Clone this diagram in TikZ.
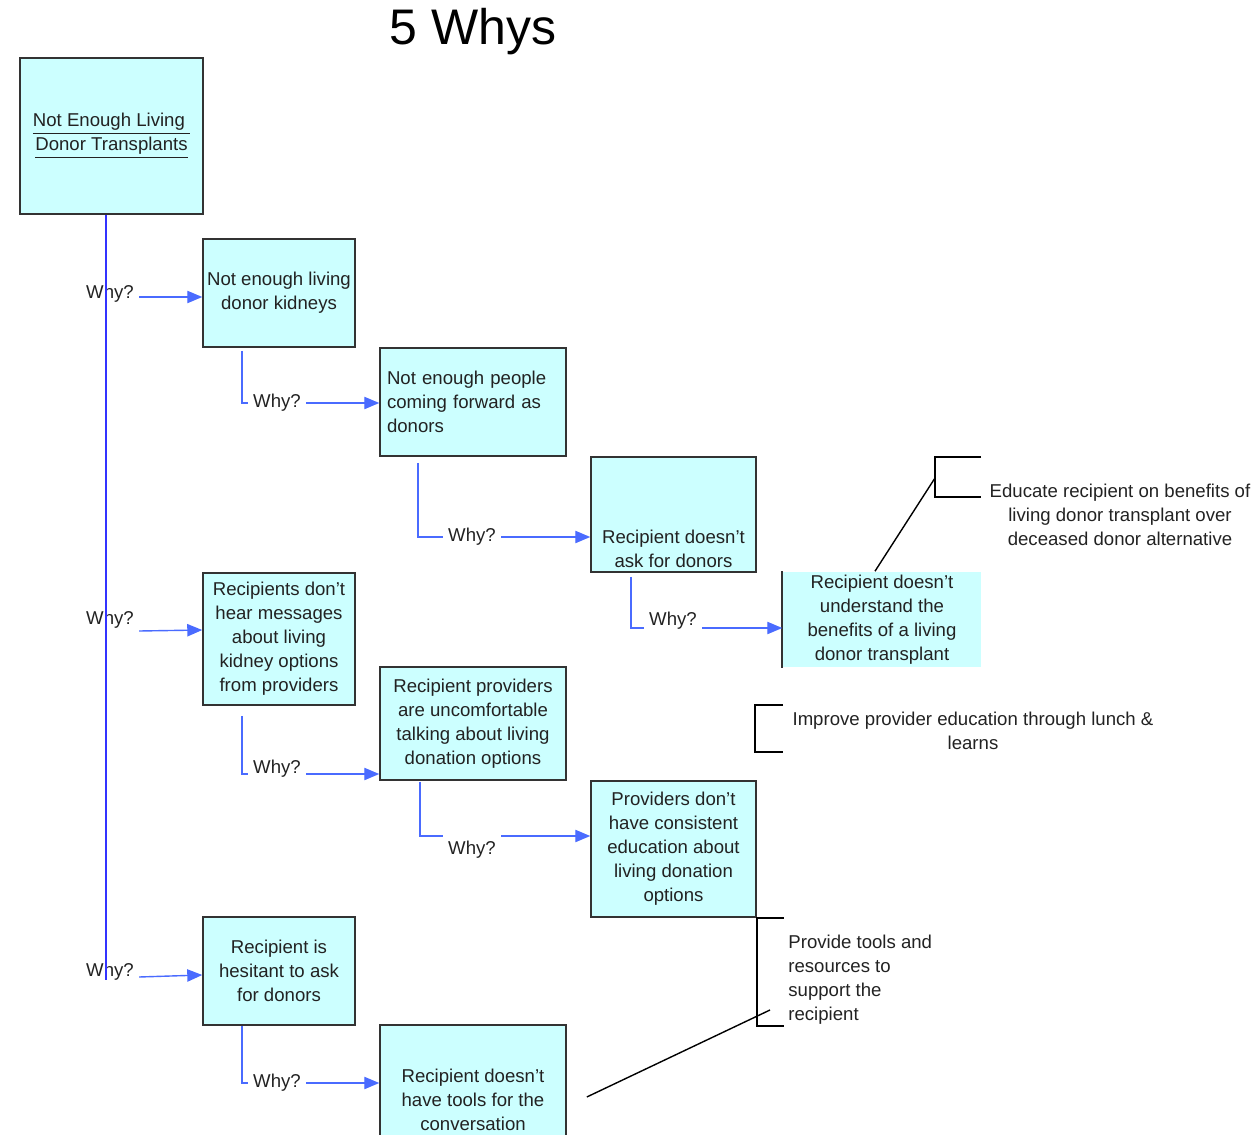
\documentclass[tikz,border=0pt]{standalone}
\usepackage{fontspec}
\setmainfont{Liberation Sans}
\usetikzlibrary{arrows}
\definecolor{boxfill}{HTML}{CCFFFF}
\definecolor{boxline}{HTML}{333333}
\definecolor{trunkblue}{HTML}{3333FF}
\definecolor{linkblue}{HTML}{4A6BFF}
\definecolor{inkgray}{HTML}{222222}

\begin{document}
\begin{tikzpicture}[x=0.5pt,y=-0.5pt,
  whybox/.style={draw=boxline,fill=boxfill,line width=0.8pt,inner sep=0pt,
    align=center,text=inkgray,font=\fontsize{9.3}{12}\selectfont},
  whytxt/.style={inner sep=2.5pt,text=inkgray,font=\fontsize{9.3}{12}\selectfont},
  note/.style={inner sep=2.5pt,align=center,text=inkgray,font=\fontsize{9.3}{12}\selectfont},
  trunk/.style={trunkblue,line width=0.8pt},
  link/.style={linkblue,line width=0.7pt},
  linkto/.style={link,-triangle 45},
  bracket/.style={black,line width=0.7pt}]
\useasboundingbox (0,0) rectangle (1255,1135);
\clip (0,0) rectangle (1255,1135);
\node (title) [font=\fontsize{25}{30}\selectfont,anchor=base] at (473,45) {5 Whys};
\node (root) [whybox,minimum width=91.5pt,minimum height=78pt] at (111.5,136)
  {\underline{Not Enough Living\ }\\\underline{Donor Transplants}};
\node (b1) [whybox,minimum width=76pt,minimum height=54pt] at (279,293)
  {Not enough living\\donor kidneys};
\node (b2) [whybox,minimum width=93pt,minimum height=54pt,text width=86pt,align=left]
  at (473,402) {Not enough people\\coming forward as\\donors};
\node (b3) [whybox,minimum width=82.5pt,minimum height=57.5pt] at (673.5,514.5) {};
\node (b3t) [note,anchor=south,inner sep=2.5pt] at (b3.south) {Recipient doesn't\\ask for donors};
\node (b4) [whybox,draw=none,minimum width=99pt,minimum height=47.5pt] at (882,619.5)
  {Recipient doesn't\\understand the\\benefits of a living\\donor transplant};
\draw [boxline,line width=0.8pt] (b4.north west) -- (b4.south west);
\node (c1) [whybox,minimum width=76pt,minimum height=66pt] at (279,639)
  {Recipients don't\\hear messages\\about living\\kidney options\\from providers};
\node (c2) [whybox,minimum width=93pt,minimum height=56.5pt] at (473,723.5)
  {Recipient providers\\are uncomfortable\\talking about living\\donation options};
\node (c3) [whybox,minimum width=82.5pt,minimum height=68pt] at (673.5,849)
  {Providers don't\\have consistent\\education about\\living donation\\options};
\node (d1) [whybox,minimum width=76pt,minimum height=54pt] at (279,971)
  {Recipient is\\hesitant to ask\\for donors};
\node (d2) [whybox,minimum width=93pt,minimum height=75pt] at (473,1100)
  {Recipient doesn't\\have tools for the\\conversation};
\node (wa1) [whytxt] at (110,294) {Why?};
\node (wa2) [whytxt] at (110,620) {Why?};
\node (wa3) [whytxt] at (110,972) {Why?};
\node (wb1) [whytxt] at (277,403) {Why?};
\node (wb2) [whytxt] at (472,537) {Why?};
\node (wb3) [whytxt] at (673,621) {Why?};
\node (wc1) [whytxt] at (277,769) {Why?};
\node (wc2) [whytxt] at (472,850) {Why?};
\node (wd1) [whytxt] at (277,1083) {Why?};
\coordinate (trunkend) at (106,980);
\draw [trunk] (root.south -| trunkend) -- (trunkend);
\draw [linkto] ([yshift=-1.5pt]wa1.east) -- ([yshift=-1.5pt]wa1.east -| b1.west);
\draw [linkto] ([yshift=-5.5pt]wa2.east) -- ([yshift=-5pt]wa2.east -| c1.west);
\draw [linkto] ([yshift=-2.5pt]wa3.east) -- ([yshift=-1.5pt]wa3.east -| d1.west);
\draw [link] ([xshift=-18.5pt,yshift=-1.5pt]b1.south) |- (wb1.west);
\draw [linkto] (wb1.east) -- (wb1.east -| b2.west);
\draw [link] ([xshift=-27.5pt,yshift=-3pt]b2.south) |- (wb2.west);
\draw [linkto] (wb2.east) -- (wb2.east -| b3.west);
\draw [link] ([xshift=-21.25pt,yshift=-2pt]b3.south) |- ([yshift=-3.5pt]wb3.west);
\draw [linkto] ([yshift=-3.5pt]wb3.east) -- ([yshift=-3.5pt]wb3.east -| b4.west);
\draw [link] ([xshift=-18.5pt,yshift=-5pt]c1.south) |- ([yshift=-2.5pt]wc1.west);
\draw [linkto] ([yshift=-2.5pt]wc1.east) -- ([yshift=-2.5pt]wc1.east -| c2.west);
\draw [link] ([xshift=-26.5pt,yshift=-0.5pt]c2.south) |- ([yshift=7pt]wc2.west);
\draw [linkto] ([yshift=7pt]wc2.east) -- ([yshift=7pt]wc2.east -| c3.west);
\draw [link] ([xshift=-18.5pt]d1.south) |- (wd1.west);
\draw [linkto] (wd1.east) -- (wd1.east -| d2.west);
\draw [bracket] (981,457) -- (935,457) -- (935,497) -- (981,497);
\coordinate (edutip) at (935,478);
\draw [bracket] ([xshift=-3.5pt]b4.north) -- (edutip);
\node (edu) [note] at (1120,515)
  {Educate recipient on benefits of\\living donor transplant over\\deceased donor alternative};
\draw [bracket] (783,705) -- (755,705) -- (755,752) -- (783,752);
\node (imp) [note] at (973,731) {Improve provider education through lunch \&\\learns};
\draw [bracket] ([xshift=13.5pt]c3.south east) -- (c3.south east) -- ++(0,108) -- ++(27,0);
\coordinate (provtip) at (770,1010);
\draw [bracket] ([xshift=10pt,yshift=1.5pt]d2.east) -- (provtip);
\node (prov) [note,align=left,anchor=west] at (783,980)
  {Provide tools and\\resources to\\support the\\recipient};
\end{tikzpicture}
\end{document}
